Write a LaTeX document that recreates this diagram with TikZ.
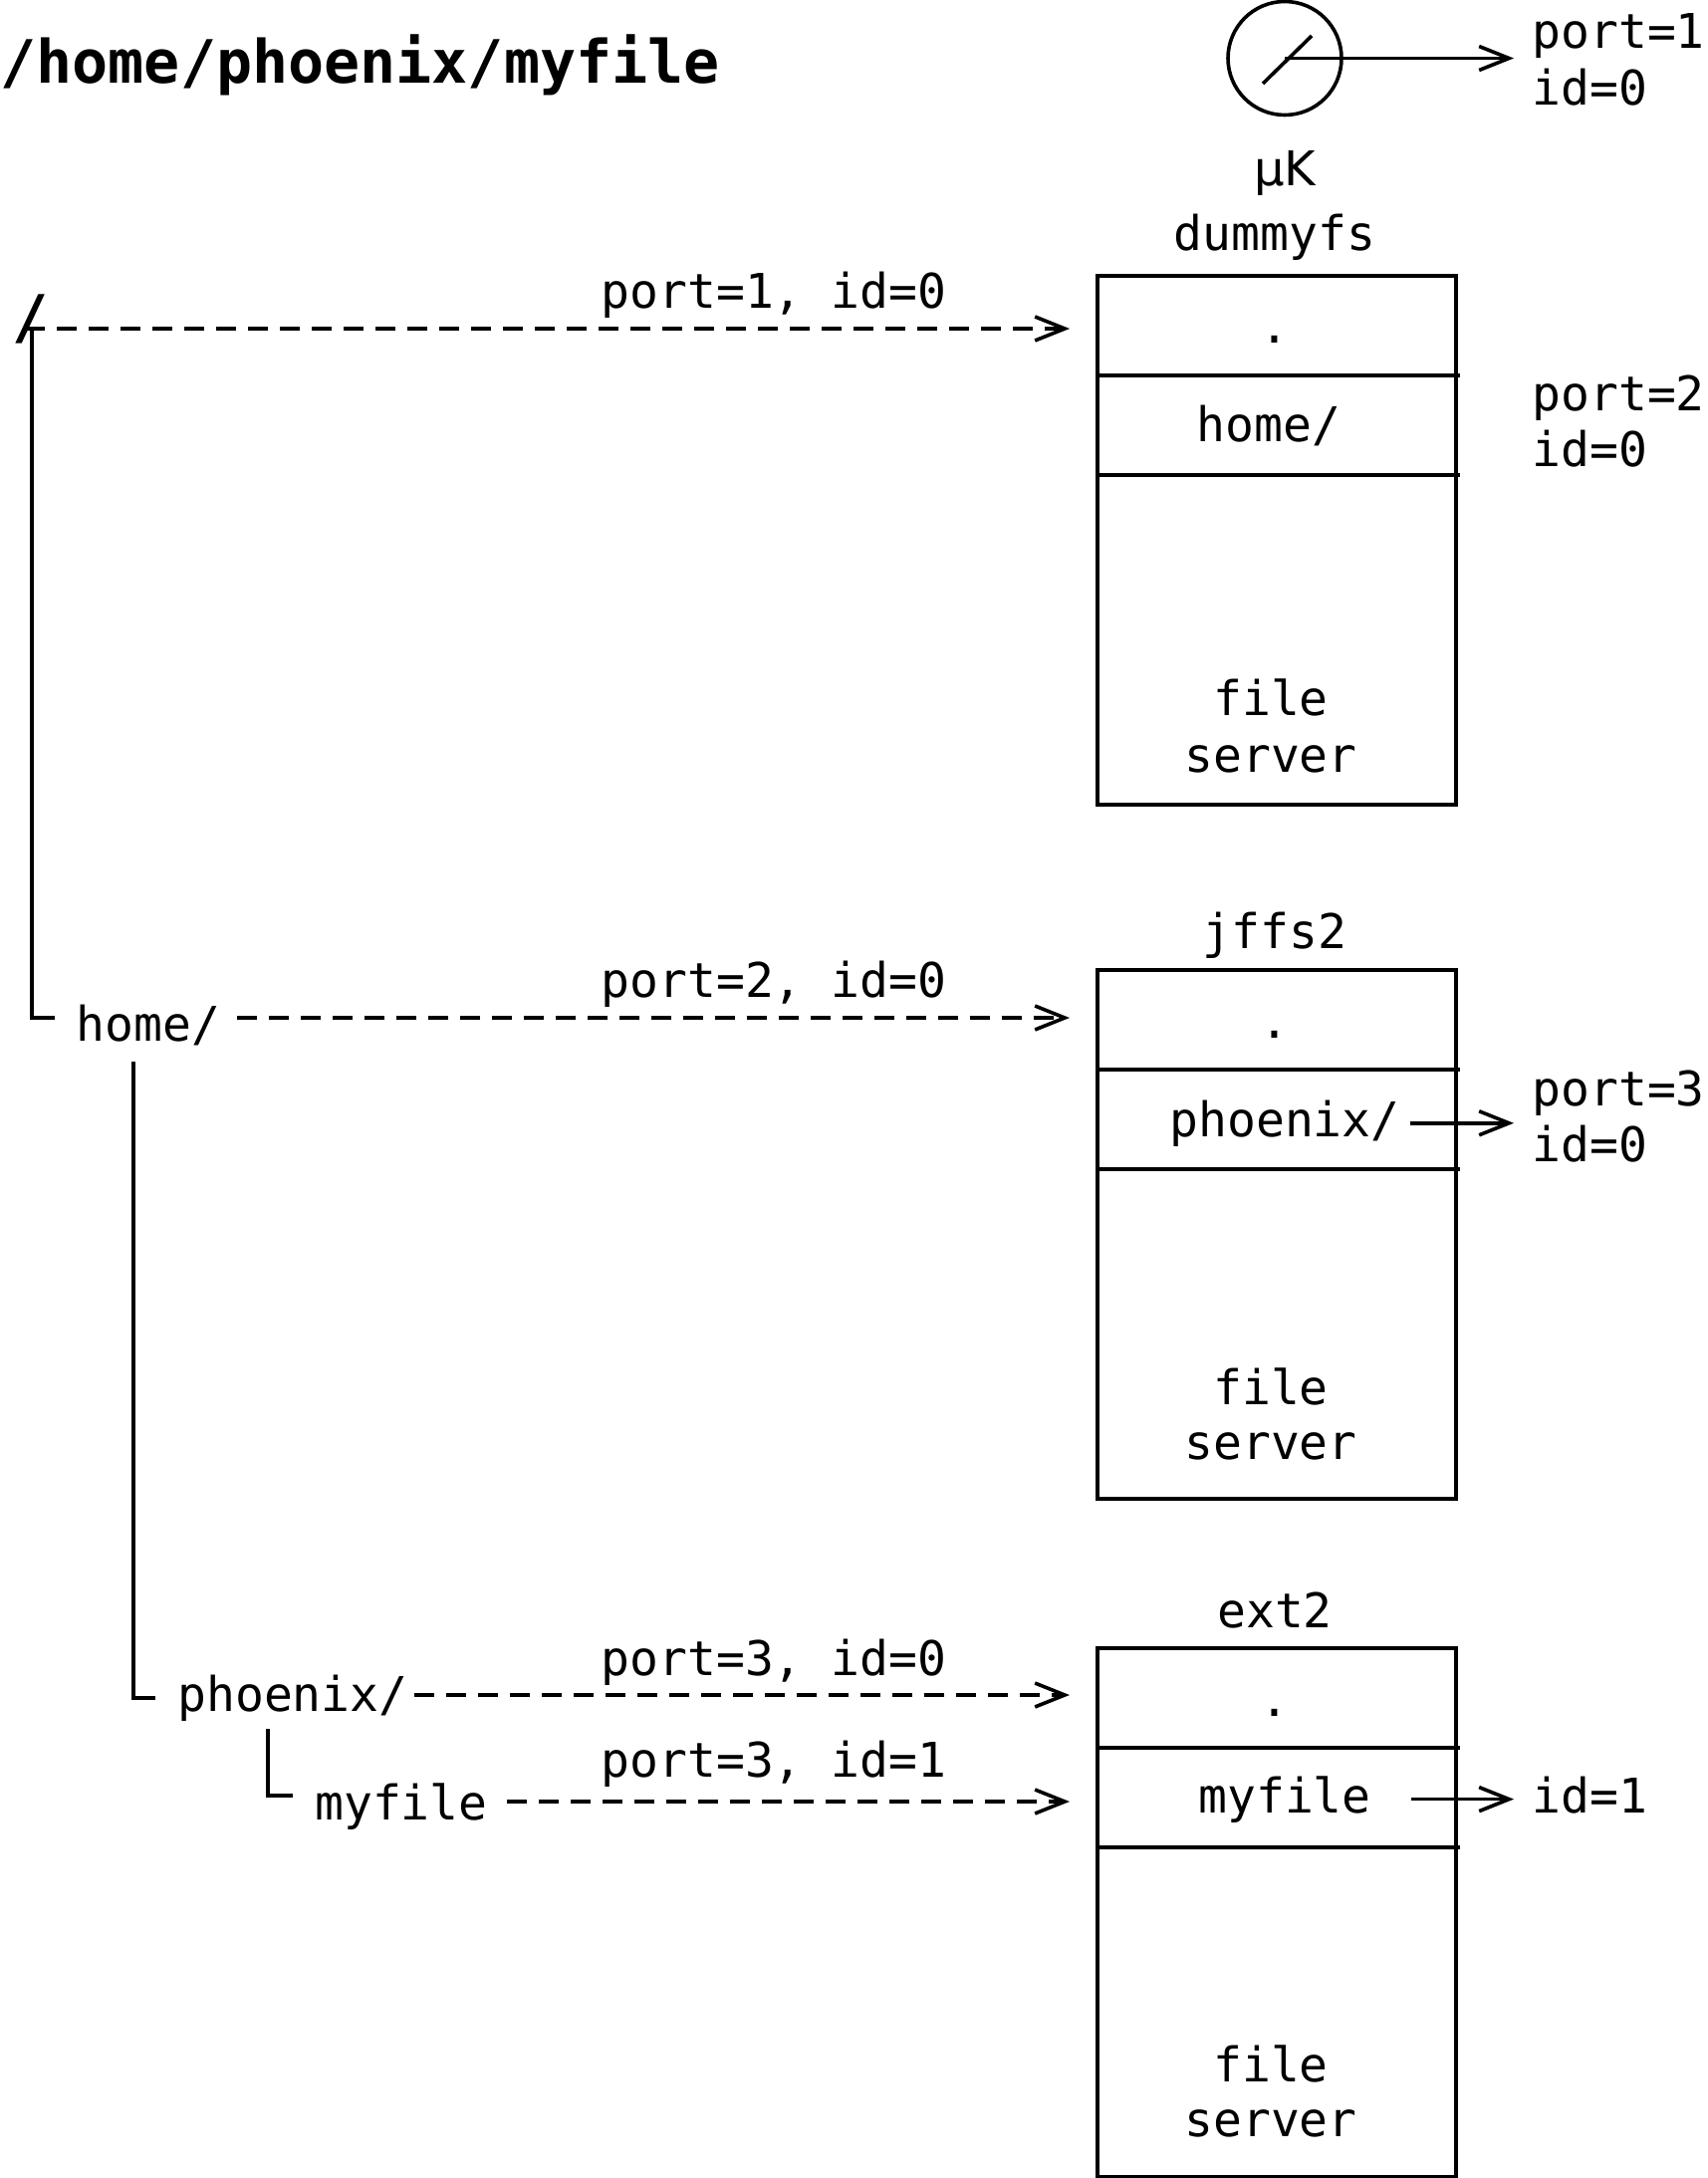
\documentclass[tikz,border=0pt]{standalone}
\usepackage{fontspec}
\newfontfamily\mono{DejaVu Sans Mono}
\newfontfamily\dvsans{DejaVu Sans}
\usetikzlibrary{arrows.meta}
\begin{document}
\begin{tikzpicture}[x=0.5pt,y=-0.5pt,
  txt/.style={font=\mono\fontsize{24pt}{28pt}\selectfont, inner sep=0pt, anchor=base},
  ttl/.style={font=\mono\bfseries\fontsize{30pt}{34pt}\selectfont, inner sep=0pt, anchor=base},
  ln/.style={line width=1.8pt},
  fsbox/.style={draw, line width=1.8pt, minimum width=180pt, minimum height=265.5pt, anchor=north west, inner sep=0pt},
  dasharrow/.style={ln, dash pattern=on 10pt off 6pt, -{Straight Barb[length=15pt,width=12pt]}},
  solidarrow/.style={ln, -{Straight Barb[length=15pt,width=12pt]}},
]
\useasboundingbox (0,0) rectangle (1714,2187);

% title
\node[ttl, anchor=base west] (title) at (0,84) {/home/phoenix/myfile};

% microkernel
\node[draw, circle, ln, minimum size=57pt, inner sep=0pt] (k) at (1290,58.5) {};
\draw[ln] (1268,84) -- (1317,36);
\node[font=\dvsans\fontsize{24pt}{28pt}\selectfont, inner sep=0pt, anchor=base] (uk) at (1290,187) {µK};
\node[txt, anchor=base west] (p1a) at (1538,49) {port=1};
\node[txt, anchor=base west] (p1b) at (1538,106) {id=0};
\draw[solidarrow] (k.center) -- ([xshift=-9pt]k.center -| p1a.west);

% box 1: dummyfs
\node[fsbox] (b1) at (1100,275) {};
\node[txt] (l1) at (1280,252) {dummyfs};
\draw[ln] (b1.west |- 0,377) -- ([xshift=1pt]b1.east |- 0,377);
\draw[ln] (b1.west |- 0,477) -- ([xshift=1pt]b1.east |- 0,477);
\node[txt] (d1) at (1280,345) {.};
\node[txt] (h1) at (1274,444) {home/};
\node[txt] (f1) at (1276,718) {file};
\node[txt] (s1) at (1276,775) {server};
\node[txt, anchor=base west] (p2a) at (1538,413) {port=2};
\node[txt, anchor=base west] (p2b) at (1538,469) {id=0};
\coordinate (b1r1) at (1280,330);

% box 2: jffs2
\node[fsbox] (b2) at (1100,972) {};
\node[txt] (l2) at (1280,952) {jffs2};
\draw[ln] (b2.west |- 0,1074) -- ([xshift=1pt]b2.east |- 0,1074);
\draw[ln] (b2.west |- 0,1174) -- ([xshift=1pt]b2.east |- 0,1174);
\node[txt] (d2) at (1280,1042) {.};
\node[txt] (ph2) at (1290,1141) {phoenix/};
\node[txt] (f2) at (1276,1410) {file};
\node[txt] (s2) at (1276,1465) {server};
\node[txt, anchor=base west] (p3a) at (1538,1110) {port=3};
\node[txt, anchor=base west] (p3b) at (1538,1166) {id=0};
\draw[solidarrow] ([xshift=5.2pt]ph2.east) -- ([xshift=-9pt]ph2.east -| p3a.west);
\coordinate (b2r1) at (1280,1022);

% box 3: ext2
\node[fsbox] (b3) at (1100,1653) {};
\node[txt] (l3) at (1280,1634) {ext2};
\draw[ln] (b3.west |- 0,1755) -- ([xshift=1pt]b3.east |- 0,1755);
\draw[ln] (b3.west |- 0,1855) -- ([xshift=1pt]b3.east |- 0,1855);
\node[txt] (d3) at (1280,1723) {.};
\node[txt] (m3) at (1290,1820) {myfile};
\node[txt] (f3) at (1276,2090) {file};
\node[txt] (s3) at (1276,2145) {server};
\node[txt, anchor=base west] (i3) at (1538,1820) {id=1};
\draw[solidarrow] ([xshift=19.7pt]m3.east) -- ([xshift=-9pt]m3.east -| i3.west);
\coordinate (b3r1) at (1280,1702);
\coordinate (b3r2) at (1280,1809);

% path tree on the left
\coordinate (root) at (32,330);
\node[txt] (homeL) at (149,1045) {home/};
\node[txt] (phL) at (294,1718) {phoenix/};
\node[txt] (myL) at (403,1827) {myfile};

\coordinate (c1) at (32,1022);
\coordinate (c2a) at (134,1066);
\coordinate (c2) at (134,1705);
\coordinate (c3a) at (269,1736);
\coordinate (c3) at (269,1803);

\draw[ln] (root) -- (c1) -- ([xshift=-10.5pt]homeL.west |- c1);
\draw[ln] (c2a) -- (c2) -- ([xshift=-11pt]phL.west |- c2);
\draw[ln] (c3a) -- (c3) -- ([xshift=-11pt]myL.west |- c3);

% dashed references
\draw[dasharrow] ([xshift=-3.5pt]root) -- ([xshift=-13pt]b1r1 -| b1.west);
\node[ttl] (slash) at (31,340) {/};
\draw[dasharrow] ([xshift=8pt]homeL.east |- b2r1) -- ([xshift=-13pt]b2r1 -| b2.west);
\draw[dasharrow] ([xshift=3pt]phL.east |- b3r1) -- ([xshift=-13pt]b3r1 -| b3.west);
\draw[dasharrow] ([xshift=9.5pt]myL.east |- b3r2) -- ([xshift=-13pt]b3r2 -| b3.west);

% labels on the dashed references
\node[txt] (q1) at (777,310) {port=1, id=0};
\node[txt] (q2) at (777,1001) {port=2, id=0};
\node[txt] (q3) at (777,1682) {port=3, id=0};
\node[txt] (q4) at (777,1784) {port=3, id=1};
\end{tikzpicture}
\end{document}
